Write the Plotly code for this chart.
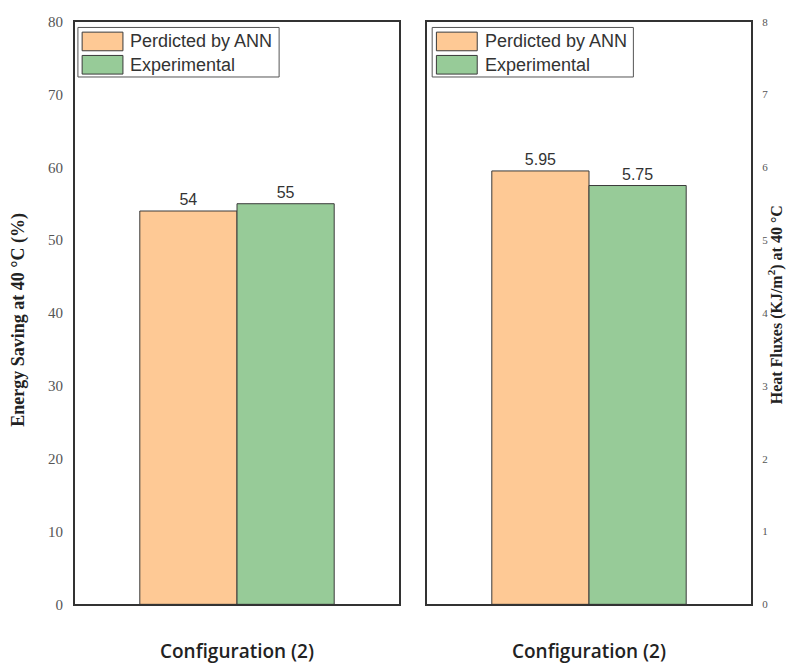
import plotly.graph_objects as go
from plotly.subplots import make_subplots

# Data
category = ["Configuration (2)"]
series_names = ["Perdicted by ANN", "Experimental"]
energy_saving = [54, 55]          # %
heat_flux = [5.95, 5.75]          # KJ/m2
energy_labels = ["54", "55"]
flux_labels = ["5.95", "5.75"]
energy_ticks = [0, 10, 20, 30, 40, 50, 60, 70, 80]
flux_ticks = [0, 1, 2, 3, 4, 5, 6, 7, 8]

fill_colors = ["#FEC995", "#97CB98"]
edge_color = "#3a3a3a"

W, H = 786, 664
fig = make_subplots(rows=1, cols=2)

label_font = dict(family="Liberation Sans, Arial", size=16, color="#333")
for i, name in enumerate(series_names):
    fig.add_trace(go.Bar(
        x=category, y=[energy_saving[i]], name=name,
        text=[energy_labels[i]], textposition="outside", textfont=label_font,
        marker=dict(color=fill_colors[i], line=dict(color=edge_color, width=1)),
        cliponaxis=False, showlegend=False,
    ), row=1, col=1)
    fig.add_trace(go.Bar(
        x=category, y=[heat_flux[i]], name=name,
        text=[flux_labels[i]], textposition="outside", textfont=label_font,
        marker=dict(color=fill_colors[i], line=dict(color=edge_color, width=1)),
        cliponaxis=False, showlegend=False,
    ), row=1, col=2)

x_dom1 = [75 / W, 399 / W]
x_dom2 = [427 / W, 751 / W]
y_dom = [1 - 612 / H, 1 - 14 / H]

axis_line = dict(showline=True, linecolor="#333", linewidth=2, mirror=True,
                 showgrid=False, zeroline=False, ticks="")
xfont = dict(family="Open Sans", size=19, color="#222", weight=600)

fig.update_xaxes(domain=x_dom1, range=[-0.5, 0.5], tickfont=xfont,
                 ticklabelstandoff=29, **axis_line, row=1, col=1)
fig.update_xaxes(domain=x_dom2, range=[-0.5, 0.5], tickfont=xfont,
                 ticklabelstandoff=29, **axis_line, row=1, col=2)
fig.update_yaxes(domain=y_dom, range=[0, 80], tickvals=energy_ticks,
                 tickfont=dict(family="Liberation Serif", size=15, color="#555"),
                 ticklabelstandoff=7, **axis_line, row=1, col=1)
fig.update_yaxes(domain=y_dom, range=[0, 8], tickvals=flux_ticks, side="right",
                 tickfont=dict(family="Liberation Serif", size=11, color="#555"),
                 ticklabelstandoff=7, **axis_line, row=1, col=2)

# Axis titles
fig.add_annotation(text="<b>Energy Saving at 40 °C (%)</b>", xref="paper", yref="paper",
                   x=19 / W, y=1 - 320 / H, textangle=-90, showarrow=False,
                   font=dict(family="Liberation Serif", size=18, color="#222"),
                   xanchor="center", yanchor="middle")
fig.add_annotation(text="<b>Heat Fluxes (KJ/m<sup>2</sup>) at 40 °C</b>", xref="paper", yref="paper",
                   x=775 / W, y=1 - 305 / H, textangle=-90, showarrow=False,
                   font=dict(family="Liberation Serif", size=16, color="#222"),
                   xanchor="center", yanchor="middle")

# Legend boxes drawn inside each panel
legend_font = dict(family="Liberation Sans, Arial", size=18, color="#333")
for xref, yref, dx in [("x domain", "y domain", 0.0), ("x2 domain", "y2 domain", 0.007)]:
    fig.add_shape(type="rect", xref=xref, yref=yref, x0=0.009 + dx, x1=0.63 + dx,
                  y0=0.905, y1=0.99,
                  line=dict(color="#555", width=1), fillcolor="white", layer="above")
    for i, name in enumerate(series_names):
        yc = 0.966 - i * 0.040
        fig.add_shape(type="rect", xref=xref, yref=yref, x0=0.022 + dx, x1=0.148 + dx,
                      y0=yc - 0.016, y1=yc + 0.016,
                      line=dict(color=edge_color, width=1), fillcolor=fill_colors[i], layer="above")
        fig.add_annotation(text=name, xref=xref, yref=yref, x=0.165 + dx, y=yc, showarrow=False,
                           xanchor="left", yanchor="middle", font=legend_font)

fig.update_layout(
    width=W, height=H, margin=dict(l=0, r=0, t=0, b=0),
    paper_bgcolor="white", plot_bgcolor="white",
    barmode="group", bargap=0.4, bargroupgap=0,
    showlegend=False,
)

fig.write_html("out.html")
